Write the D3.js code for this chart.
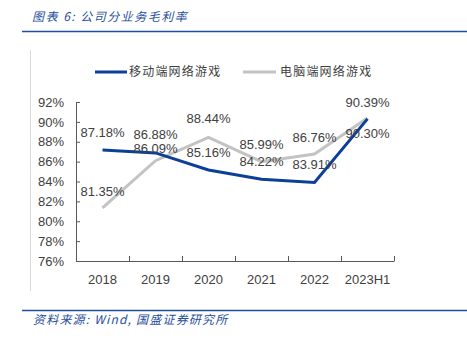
<!DOCTYPE html>
<html>
<head>
<meta charset="utf-8">
<script src="https://cdn.jsdelivr.net/npm/d3@7"></script>
<style>
  body { margin: 0; background: #fff; }
  svg { display: block; }
</style>
</head>
<body>
<div id="chart"></div>
<script>
// chart data
var years = ["2018", "2019", "2020", "2021", "2022", "2023H1"];
var mobile = [87.18, 86.88, 85.16, 84.22, 83.91, 90.30];
var pc = [81.35, 86.09, 88.44, 85.99, 86.76, 90.39];
var yTicks = [76, 78, 80, 82, 84, 86, 88, 90, 92];
var seriesNames = ["移动端网络游戏", "电脑端网络游戏"];

var W = 467, H = 339;
var blue = "#0b3f98", gray = "#c3c3c3", titleBlue = "#1f4e9c";
var font = "'Liberation Sans', Arial, sans-serif";
var cjk = "'Noto Sans CJK SC', sans-serif";

var svg = d3.select("#chart").append("svg").attr("width", W).attr("height", H);

// header
svg.append("text").attr("x", 32).attr("y", 21).text("图表 6:  公司分业务毛利率")
    .style("font-family", cjk).style("font-size", "12px").style("font-style", "italic")
    .style("letter-spacing", "1.5px").attr("fill", titleBlue);
svg.append("line").attr("x1", 22).attr("x2", W).attr("y1", 31.5).attr("y2", 31.5)
    .attr("stroke", titleBlue).attr("stroke-width", 1.6);

// left frame line of chart area
svg.append("line").attr("x1", 30.5).attr("x2", 30.5).attr("y1", 50).attr("y2", 291)
    .attr("stroke", "#d9d9d9").attr("stroke-width", 1);

// scales
var x = d3.scaleBand().domain(years).range([76, 394]);
var y = d3.scaleLinear().domain([76, 92]).range([261, 102]);

// y axis
var yAxis = svg.append("g").attr("transform", "translate(76,0)")
    .call(d3.axisRight(y).tickValues(yTicks).tickSize(4).tickFormat(function(d) { return d + "%"; }));
yAxis.select(".domain").attr("stroke", "#595959");
yAxis.selectAll(".tick line").attr("stroke", "#595959");
yAxis.selectAll(".tick text").attr("x", -12).attr("text-anchor", "end")
    .style("font-family", font).style("font-size", "13px").attr("fill", "#404040");

// x axis
var xAxis = svg.append("g").attr("transform", "translate(0,261)")
    .call(d3.axisBottom(x).tickSize(0).tickSizeOuter(0));
xAxis.select(".domain").attr("stroke", "#595959");
xAxis.selectAll(".tick text").attr("dy", "1.3em").attr("y", 6)
    .style("font-family", font).style("font-size", "13px").attr("fill", "#404040");
// category boundary ticks pointing up
var bounds = years.map(function(d) { return x(d); }).concat([x.range()[1]]);
svg.append("g").selectAll("line").data(bounds).enter().append("line")
    .attr("x1", function(d) { return d + 0.5; }).attr("x2", function(d) { return d + 0.5; })
    .attr("y1", 261).attr("y2", 256).attr("stroke", "#595959");

var line = d3.line()
    .x(function(d, i) { return x(years[i]) + x.bandwidth() / 2; })
    .y(function(d) { return y(d); });

svg.append("path").datum(pc).attr("d", line).attr("fill", "none")
    .attr("stroke", gray).attr("stroke-width", 3);
svg.append("path").datum(mobile).attr("d", line).attr("fill", "none")
    .attr("stroke", blue).attr("stroke-width", 3);

// data labels
function labels(data, offsets) {
    svg.append("g").selectAll("text").data(data).enter().append("text")
        .attr("x", function(d, i) { return x(years[i]) + x.bandwidth() / 2; })
        .attr("y", function(d, i) { return y(d) + offsets[i]; })
        .attr("text-anchor", "middle")
        .style("font-family", font).style("font-size", "13px").attr("fill", "#404040")
        .text(function(d) { return d.toFixed(2) + "%"; });
}
labels(mobile, [-13, -14, -13, -13, -13, 19]);
labels(pc, [-12, -8, -14, -13, -12, -11]);

// legend
var legend = svg.append("g");
legend.append("line").attr("x1", 95).attr("x2", 127).attr("y1", 72).attr("y2", 72)
    .attr("stroke", blue).attr("stroke-width", 3);
legend.append("text").attr("x", 129).attr("y", 76).text(seriesNames[0])
    .style("font-family", cjk).style("font-size", "12px").style("letter-spacing", "1.2px")
    .attr("fill", "#404040");
legend.append("line").attr("x1", 243).attr("x2", 276).attr("y1", 72).attr("y2", 72)
    .attr("stroke", gray).attr("stroke-width", 3);
legend.append("text").attr("x", 280).attr("y", 76).text(seriesNames[1])
    .style("font-family", cjk).style("font-size", "12px").style("letter-spacing", "1.2px")
    .attr("fill", "#404040");

// footer
svg.append("line").attr("x1", 22).attr("x2", W).attr("y1", 310.5).attr("y2", 310.5)
    .attr("stroke", titleBlue).attr("stroke-width", 1.6);
svg.append("text").attr("x", 33).attr("y", 324).text("资料来源:  Wind,  国盛证券研究所")
    .style("font-family", cjk).style("font-size", "12px").style("font-style", "italic")
    .style("letter-spacing", "1.2px").attr("fill", titleBlue);
</script>
</body>
</html>
